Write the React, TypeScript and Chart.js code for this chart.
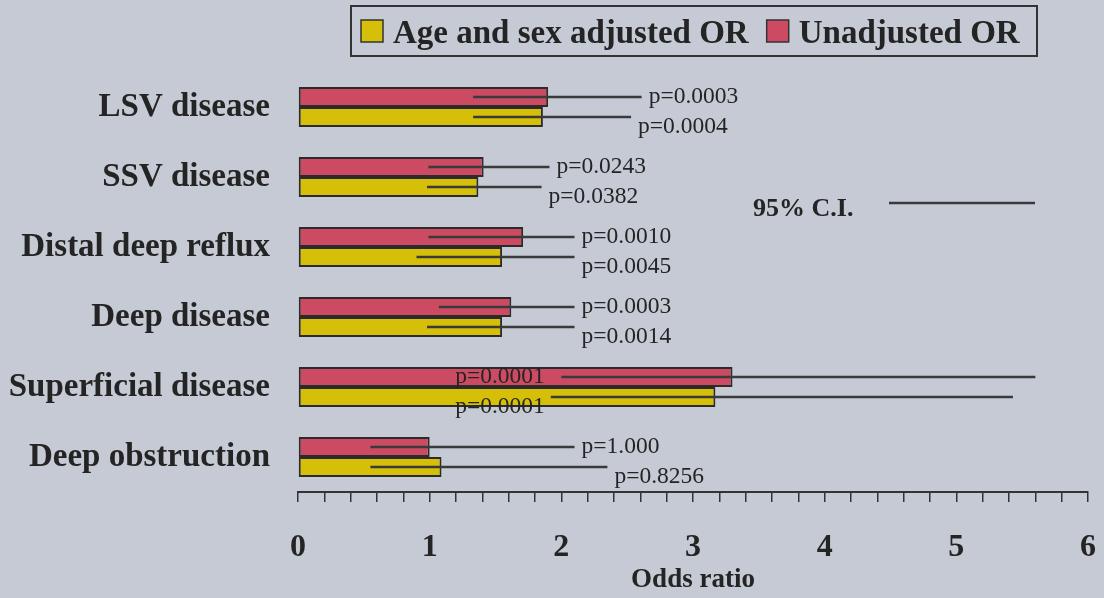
import { useEffect, useRef } from 'react';
import { Chart, registerables } from 'chart.js';

Chart.register(...registerables);

// Outcome categories, top to bottom
const categories = [
  'LSV disease',
  'SSV disease',
  'Distal deep reflux',
  'Deep disease',
  'Superficial disease',
  'Deep obstruction',
];

// Unadjusted odds ratios with 95% confidence limits and p-values
const unadjustedOR = [1.9, 1.41, 1.71, 1.62, 3.3, 1.0];
const unadjustedLow = [1.33, 0.99, 0.99, 1.07, 2.0, 0.55];
const unadjustedHigh = [2.61, 1.91, 2.1, 2.1, 5.6, 2.1];
const unadjustedP = ['p=0.0003', 'p=0.0243', 'p=0.0010', 'p=0.0003', 'p=0.0001', 'p=1.000'];

// Age and sex adjusted odds ratios with 95% confidence limits and p-values
const adjustedOR = [1.86, 1.37, 1.55, 1.55, 3.17, 1.09];
const adjustedLow = [1.33, 0.98, 0.9, 0.98, 1.92, 0.55];
const adjustedHigh = [2.53, 1.85, 2.1, 2.1, 5.43, 2.35];
const adjustedP = ['p=0.0004', 'p=0.0382', 'p=0.0045', 'p=0.0014', 'p=0.0001', 'p=0.8256'];

const xMin = 0;
const xMax = 6;
const xMinorStep = 0.2;

const BG = '#c5cad5';
const RED = '#cd4b62';
const YELLOW = '#d5bf08';
const INK = '#242424';
const LINE = '#3a3a3a';
const SERIF = "'Liberation Serif', 'Times New Roman', serif";

const ciSets = [
  { low: unadjustedLow, high: unadjustedHigh, p: unadjustedP, dy: 0 },
  { low: adjustedLow, high: adjustedHigh, p: adjustedP, dy: 10 },
];

const annotations = {
  id: 'orAnnotations',
  beforeDraw(chart: any) {
    const { ctx, width, height } = chart;
    ctx.save();
    ctx.fillStyle = BG;
    ctx.fillRect(0, 0, width, height);
    ctx.restore();
  },
  afterDatasetsDraw(chart: any) {
    const { ctx, chartArea } = chart;
    const xs = chart.scales.x;
    ctx.save();

    // confidence interval lines and p-value labels
    ciSets.forEach((set, di) => {
      const meta = chart.getDatasetMeta(di);
      meta.data.forEach((bar: any, j: number) => {
        const y = bar.y;
        const x1 = xs.getPixelForValue(set.low[j]);
        const x2 = xs.getPixelForValue(set.high[j]);
        ctx.strokeStyle = LINE;
        ctx.lineWidth = 2.5;
        ctx.beginPath();
        ctx.moveTo(x1, y);
        ctx.lineTo(x2, y);
        ctx.stroke();

        ctx.font = `23.5px ${SERIF}`;
        ctx.fillStyle = INK;
        ctx.textBaseline = 'middle';
        const text = set.p[j];
        const w = ctx.measureText(text).width;
        if (x2 + 8 + w > chartArea.right) {
          const lo = Math.min(unadjustedLow[j], adjustedLow[j]);
          ctx.textAlign = 'right';
          ctx.fillText(text, xs.getPixelForValue(lo) - 6, y + set.dy);
        } else {
          ctx.textAlign = 'left';
          ctx.fillText(text, x2 + 7, y + set.dy);
        }
      });
    });

    // legend box
    const ds = chart.data.datasets;
    const items = [ds[1], ds[0]];
    ctx.font = `bold 33px ${SERIF}`;
    let x = 361;
    const boxTop = 20;
    const sw = 22;
    const pos: { x: number; tx: number }[] = [];
    items.forEach((d: any) => {
      pos.push({ x, tx: x + sw + 10 });
      x = x + sw + 10 + ctx.measureText(d.label).width + 18;
    });
    ctx.strokeStyle = '#333';
    ctx.lineWidth = 2;
    ctx.strokeRect(351, 6, 686, 50);
    items.forEach((d: any, i: number) => {
      ctx.fillStyle = d.backgroundColor;
      ctx.fillRect(pos[i].x, boxTop, sw, sw);
      ctx.strokeStyle = '#333';
      ctx.lineWidth = 1.5;
      ctx.strokeRect(pos[i].x, boxTop, sw, sw);
      ctx.fillStyle = INK;
      ctx.textAlign = 'left';
      ctx.textBaseline = 'alphabetic';
      ctx.fillText(d.label, pos[i].tx, 43);
    });

    // CI key
    ctx.font = `bold 26px ${SERIF}`;
    ctx.fillStyle = INK;
    ctx.textAlign = 'left';
    ctx.textBaseline = 'middle';
    ctx.fillText('95% C.I.', 753, 209);
    ctx.strokeStyle = LINE;
    ctx.lineWidth = 2.5;
    ctx.beginPath();
    ctx.moveTo(889, 203);
    ctx.lineTo(1035, 203);
    ctx.stroke();

    ctx.restore();
  },
};

export default function App() {
  const ref = useRef<HTMLCanvasElement>(null);

  useEffect(() => {
    const chart = new Chart(ref.current as HTMLCanvasElement, {
      type: 'bar',
      data: {
        labels: categories,
        datasets: [
          {
            label: 'Unadjusted OR',
            data: unadjustedOR,
            backgroundColor: RED,
            borderColor: '#2b2b2b',
            borderWidth: 2,
            borderSkipped: false,
            categoryPercentage: 0.572,
            barPercentage: 1,
          },
          {
            label: 'Age and sex adjusted OR',
            data: adjustedOR,
            backgroundColor: YELLOW,
            borderColor: '#2b2b2b',
            borderWidth: 2,
            borderSkipped: false,
            categoryPercentage: 0.572,
            barPercentage: 1,
          },
        ],
      },
      options: {
        indexAxis: 'y',
        animation: false,
        responsive: false,
        devicePixelRatio: 1,
        layout: { padding: { top: 72, right: 16, left: 0, bottom: 0 } },
        plugins: {
          legend: { display: false },
          tooltip: { enabled: false },
        },
        scales: {
          y: {
            grid: { display: false, drawTicks: false },
            border: { display: false },
            ticks: {
              color: INK,
              padding: 28,
              font: { family: SERIF, size: 33, weight: 'bold' },
            },
            afterFit: (s: any) => {
              s.width = 298;
            },
          },
          x: {
            type: 'linear',
            min: xMin,
            max: xMax,
            ticks: {
              stepSize: xMinorStep,
              autoSkip: false,
              maxRotation: 0,
              color: INK,
              padding: 27,
              font: { family: SERIF, size: 32, weight: 'bold' },
              callback: (v: any) => {
                const n = Number(v);
                return Math.abs(n - Math.round(n)) < 1e-6 ? String(Math.round(n)) : '';
              },
            },
            grid: {
              drawOnChartArea: false,
              drawTicks: true,
              tickLength: 10,
              color: '#333',
              lineWidth: 1.5,
            },
            border: { display: true, color: '#333', width: 2 },
            title: {
              display: true,
              text: 'Odds ratio',
              color: INK,
              font: { family: SERIF, size: 27, weight: 'bold' },
              padding: { top: 0, bottom: 2 },
            },
            afterFit: (s: any) => {
              s.height = 106;
              s.paddingLeft = 0;
              s.paddingRight = 0;
            },
          },
        },
      },
      plugins: [annotations],
    } as any);
    return () => chart.destroy();
  }, []);

  return (
    <div style={{ position: 'fixed', left: 0, top: 0, width: 1104, height: 598, background: BG }}>
      <canvas ref={ref} width={1104} height={598} style={{ display: 'block' }} />
    </div>
  );
}
